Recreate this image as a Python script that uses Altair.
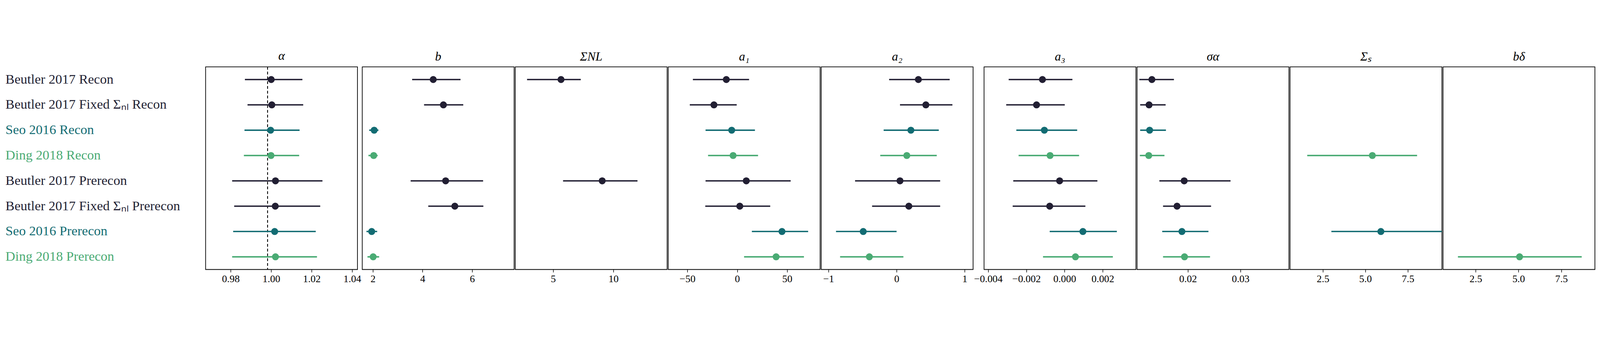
import altair as alt
import pandas as pd

models = ["Beutler 2017 Recon", "Beutler 2017 Fixed Σₙₗ Recon", "Seo 2016 Recon", "Ding 2018 Recon",
          "Beutler 2017 Prerecon", "Beutler 2017 Fixed Σₙₗ Prerecon", "Seo 2016 Prerecon", "Ding 2018 Prerecon"]
families = ["Beutler", "Beutler", "Seo", "Ding", "Beutler", "Beutler", "Seo", "Ding"]
colors = {"Beutler": "#221f33", "Seo": "#136c73", "Ding": "#4aab74"}

titles = ["α", "b", "ΣNL", "a₁", "a₂", "a₃", "σα", "Σₛ", "bδ"]
domains = [[0.9676, 1.0426], [1.57, 7.69], [1.85, 14.46], [-69.2, 83], [-1.107, 1.124],
           [-0.00422, 0.00374], [0.01033, 0.0392], [0.57, 9.5], [0.59, 9.46]]
ticks = [[0.98, 1.00, 1.02, 1.04], [2, 4, 6], [5, 10], [-50, 0, 50], [-1, 0, 1],
         [-0.004, -0.002, 0.0, 0.002], [0.02, 0.03], [2.5, 5.0, 7.5], [2.5, 5.0, 7.5]]
fmts = [".2f", "d", "d", "d", "d", ".3f", ".2f", ".1f", ".1f"]

alpha = [(1.000, 0.987, 1.0154), (1.0003, 0.9883, 1.0158), (0.9997, 0.9868, 1.014), (0.9999, 0.9865, 1.0138),
         (1.0021, 0.9807, 1.0253), (1.002, 0.9817, 1.0242), (1.0017, 0.9812, 1.022), (1.0021, 0.9807, 1.0226)]
b = [(4.43, 3.58, 5.53), (4.84, 4.06, 5.64), (2.05, 1.85, 2.22), (2.03, 1.82, 2.19),
     (4.93, 3.52, 6.44), (5.30, 4.23, 6.45), (1.95, 1.74, 2.17), (2.01, 1.78, 2.25)]
sigma_nl = [(5.65, 2.83, 7.29), None, None, None, (9.07, 5.82, 12.0), None, None, None]
a1 = [(-11, -44.5, 11.8), (-23.4, -47.6, -0.6), (-5.6, -31.8, 17.7), (-4.2, -29.3, 20.8),
      (9, -31.8, 53.5), (2.5, -32.1, 33), (44.8, 14.6, 71), (38.9, 6.8, 66.8)]
a2 = [(0.32, -0.11, 0.78), (0.43, 0.05, 0.82), (0.21, -0.19, 0.62), (0.15, -0.24, 0.59),
      (0.05, -0.61, 0.64), (0.18, -0.36, 0.64), (-0.49, -0.89, 0.0), (-0.40, -0.83, 0.10)]
a3 = [(-0.00116, -0.00293, 0.00041), (-0.00147, -0.00306, 0.00001), (-0.00106, -0.00253, 0.00066),
      (-0.00076, -0.00241, 0.00076), (-0.00026, -0.00269, 0.00172), (-0.00078, -0.00272, 0.00109),
      (0.00096, -0.00078, 0.00274), (0.00057, -0.00113, 0.00253)]
sigma_alpha = [(0.01315, 0.01076, 0.01734), (0.01261, 0.01092, 0.01576), (0.01272, 0.01092, 0.01582),
               (0.01255, 0.01087, 0.01554), (0.01929, 0.01457, 0.0281), (0.01793, 0.01527, 0.0244),
               (0.01886, 0.01511, 0.0239), (0.01935, 0.01527, 0.0242)]
sigma_s = [None, None, None, (5.41, 1.58, 8.04), None, None, (5.91, 3.0, 10.8), None]
b_delta = [None, None, None, None, None, None, None, (5.06, 1.46, 8.69)]
params = [alpha, b, sigma_nl, a1, a2, a3, sigma_alpha, sigma_s, b_delta]
alpha_ref = 0.9982

FONT = "Liberation Serif"
label_expr = ("indexof(datum.value,'Seo')>=0 ? '#136c73' : "
              "(indexof(datum.value,'Ding')>=0 ? '#4aab74' : '#221f33')")

cscale = alt.Scale(domain=list(colors.keys()), range=list(colors.values()))
panels = []
for i, (title, dom, tk, fm, vals) in enumerate(zip(titles, domains, ticks, fmts, params)):
    rows = [dict(model=m, fam=f, v=v[0], lo=v[1], hi=v[2])
            for m, f, v in zip(models, families, vals) if v is not None]
    df = pd.DataFrame(rows)
    if i == 0:
        yaxis = alt.Axis(title=None, labelFont=FONT, labelFontSize=48, labelAlign="left",
                         labelPadding=712, ticks=False, domain=False, labelLimit=800,
                         labelColor=alt.ExprRef(label_expr))
    else:
        yaxis = None
    y = alt.Y("model:N", sort=models, scale=alt.Scale(domain=models), axis=yaxis)
    xs = alt.Scale(domain=dom, nice=False, zero=False)
    xaxis = alt.Axis(title=None, values=tk, format=fm, labelFont=FONT, labelFontSize=36,
                     tickSize=10, tickWidth=2, tickColor="black", domain=False, grid=False,
                     labelColor="black", labelPadding=6, labelFlush=False)
    base = alt.Chart(df)
    err = base.mark_rule(strokeWidth=5, clip=True).encode(
        x=alt.X("lo:Q", scale=xs, axis=xaxis), x2="hi:Q", y=y,
        color=alt.Color("fam:N", scale=cscale, legend=None))
    pts = base.mark_circle(size=620, opacity=1, clip=True).encode(
        x=alt.X("v:Q", scale=xs), y=y,
        color=alt.Color("fam:N", scale=cscale, legend=None))
    layers = [err, pts]
    if i == 0:
        ref = alt.Chart(pd.DataFrame({"r": [alpha_ref]})).mark_rule(
            color="black", strokeWidth=3, strokeDash=[10, 7]).encode(x=alt.X("r:Q", scale=xs))
        layers = [ref] + layers
    panel = alt.layer(*layers).properties(
        width=540, height=720,
        view=alt.ViewBackground(stroke="black", strokeWidth=2.5, fill="white"),
        title=alt.TitleParams(title, font=FONT, fontSize=44, fontStyle="italic",
                              fontWeight="normal", offset=14, color="black"))
    panels.append(panel)

chart = alt.hconcat(*panels, spacing=0).configure_view(
    stroke="black", strokeWidth=2.5).configure(padding={"left": 6, "top": 2, "right": 5, "bottom": 5})
chart.save("out.html", embed_options={"renderer": "svg", "actions": False})
